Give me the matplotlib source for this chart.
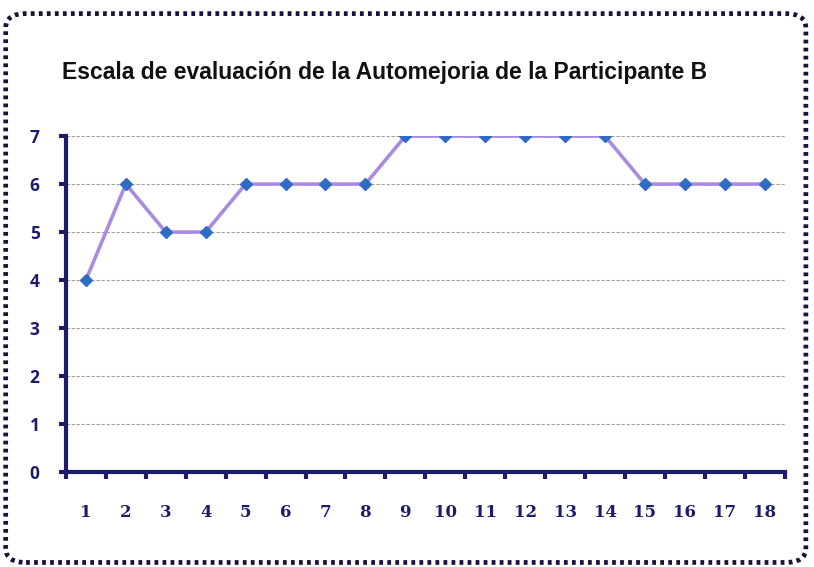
import numpy as np
import matplotlib.pyplot as plt
from matplotlib.patches import FancyBboxPatch

# data
sessions = list(range(1, 19))
scores = [4, 6, 5, 5, 6, 6, 6, 6, 7, 7, 7, 7, 7, 7, 6, 6, 6, 6]
y_ticks = [0, 1, 2, 3, 4, 5, 6, 7]
title = "Escala de evaluación de la Automejoria de la Participante B"

navy = '#1c1c6b'

fig = plt.figure(figsize=(8.14, 5.67), dpi=100)

# dotted rounded frame
frame = FancyBboxPatch((0.007, 0.008), 0.983, 0.968, transform=fig.transFigure,
                       boxstyle="round,pad=0,rounding_size=0.025",
                       fill=False, ec='#15153a', lw=3.4, ls=(0, (0.8, 0.9)))
fig.patches.append(frame)

ax = fig.add_axes([0.081, 0.1675, 0.883, 0.5925])
ax.plot(sessions, scores, color='#a98be0', lw=2.6, marker='D', ms=6.5,
        mfc='#2f6cc4', mec='#2f6cc4', zorder=3)

ax.set_xlim(0.5, 18.5)
ax.set_ylim(0, 7)
ax.set_yticks(y_ticks)
ax.set_yticklabels([str(v) for v in y_ticks], fontsize=12.5, fontweight='bold',
                   color=navy, family='Open Sans')
ax.set_xticks(sessions)
ax.set_xticklabels([str(s) for s in sessions], fontsize=12, fontweight='bold',
                   color=navy, family='DejaVu Serif')
ax.tick_params(axis='x', length=0, pad=23)
ax.set_xticks(np.arange(0.5, 19, 1), minor=True)
ax.tick_params(axis='x', which='minor', length=5, width=3, color=navy, direction='out')
ax.tick_params(axis='y', length=5, width=3, color=navy, direction='out', pad=14)

ax.grid(True, axis='y', ls=(0, (3, 1.5)), lw=0.8, color='#555555', alpha=0.55)
for s in ['top', 'right']:
    ax.spines[s].set_visible(False)
for s in ['left', 'bottom']:
    ax.spines[s].set_color(navy)
    ax.spines[s].set_linewidth(3)

fig.text(0.076, 0.872, title, fontsize=16.5, fontweight='bold',
         family='Liberation Sans', color='#111111', va='center')

fig.savefig('out.png', dpi=100)
